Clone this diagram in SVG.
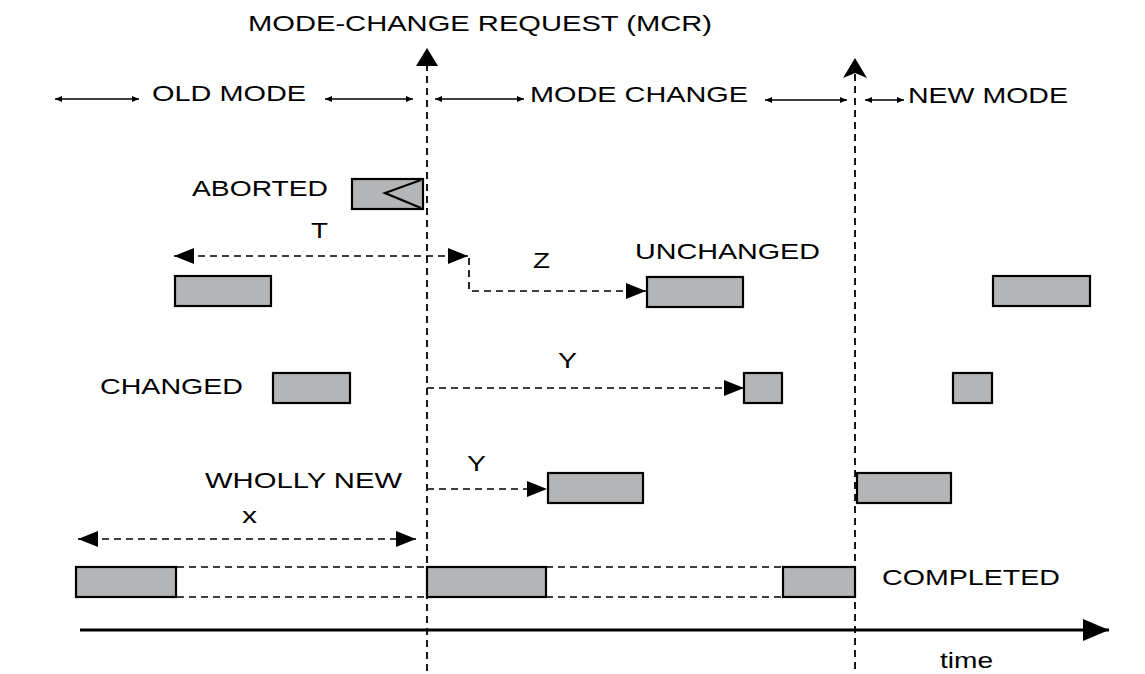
<svg xmlns="http://www.w3.org/2000/svg" width="1145" height="674" viewBox="0 0 1145 674">
<style>
  text { font-family: "Liberation Sans", Arial, sans-serif; font-size: 22px; fill: #000; }
  .box { fill: #b3b5b7; stroke: #000; stroke-width: 2.2; }
  .dash { fill: none; stroke: #000; stroke-width: 1.7; stroke-dasharray: 7 5; }
  .vdash { fill: none; stroke: #000; stroke-width: 1.8; stroke-dasharray: 7 5; }
  .thin { fill: none; stroke: #000; stroke-width: 1.3; }
  .axis { fill: none; stroke: #000; stroke-width: 3; }
</style>
<defs>
  <marker id="big" viewBox="0 0 20 16" refX="20" refY="8" markerWidth="20" markerHeight="16" markerUnits="userSpaceOnUse" orient="auto-start-reverse">
    <path d="M0,0 L20,8 L0,16 z" fill="#000"/>
  </marker>
  <marker id="small" viewBox="0 0 7 6" refX="7" refY="3" markerWidth="7" markerHeight="6" markerUnits="userSpaceOnUse" orient="auto-start-reverse">
    <path d="M0,0 L7,3 L0,6 z" fill="#000"/>
  </marker>
  <marker id="axisHead" viewBox="0 0 26 22" refX="26" refY="11" markerWidth="26" markerHeight="22" markerUnits="userSpaceOnUse" orient="auto">
    <path d="M0,0 L26,11 L0,22 z" fill="#000"/>
  </marker>
</defs>

<g id="labels">
  <text x="248" y="31" textLength="464" lengthAdjust="spacingAndGlyphs">MODE-CHANGE REQUEST (MCR)</text>
  <text x="152" y="101" textLength="154" lengthAdjust="spacingAndGlyphs">OLD MODE</text>
  <text x="530" y="102" textLength="218" lengthAdjust="spacingAndGlyphs">MODE CHANGE</text>
  <text x="908" y="103" textLength="160" lengthAdjust="spacingAndGlyphs">NEW MODE</text>
  <text x="311" y="238" textLength="17" lengthAdjust="spacingAndGlyphs">T</text>
  <text x="533" y="268" textLength="17" lengthAdjust="spacingAndGlyphs">Z</text>
  <text x="558" y="368" textLength="19" lengthAdjust="spacingAndGlyphs">Y</text>
  <text x="467" y="471" textLength="19" lengthAdjust="spacingAndGlyphs">Y</text>
  <text x="242" y="523" textLength="15" lengthAdjust="spacingAndGlyphs">x</text>
  <text x="940" y="668" textLength="53" lengthAdjust="spacingAndGlyphs">time</text>
</g>

<g id="connectors">
  <!-- mode span arrows -->
  <line class="thin" x1="55" y1="99" x2="139" y2="99" marker-start="url(#small)" marker-end="url(#small)"/>
  <line class="thin" x1="325" y1="99" x2="413" y2="99" marker-start="url(#small)" marker-end="url(#small)"/>
  <line class="thin" x1="435" y1="99" x2="524" y2="99" marker-start="url(#small)" marker-end="url(#small)"/>
  <line class="thin" x1="765" y1="100" x2="847" y2="100" marker-start="url(#small)" marker-end="url(#small)"/>
  <line class="thin" x1="865" y1="100" x2="904" y2="100" marker-start="url(#small)" marker-end="url(#small)"/>
  <!-- MCR line -->
  <line class="vdash" x1="427" y1="64" x2="427" y2="674"/>
  <path d="M427,48 L438,66 L416,66 z" fill="#000"/>
  <!-- end of mode change line -->
  <line class="vdash" x1="855" y1="74" x2="855" y2="674"/>
  <path d="M855,58 L867,78 L855,73 L843,78 z" fill="#000"/>
  <!-- T -->
  <line class="dash" x1="174" y1="256" x2="468" y2="256" marker-start="url(#big)" marker-end="url(#big)"/>
  <!-- Z -->
  <polyline class="dash" points="469,258 469,291 646,291" marker-end="url(#big)"/>
  <!-- Y changed -->
  <line class="dash" x1="427" y1="388" x2="744" y2="388" marker-end="url(#big)"/>
  <!-- Y wholly new -->
  <line class="dash" x1="427" y1="489" x2="547" y2="489" marker-end="url(#big)"/>
  <!-- x -->
  <line class="dash" x1="78" y1="539" x2="416" y2="539" marker-start="url(#big)" marker-end="url(#big)"/>
  <!-- completed row dashed links -->
  <line class="dash" x1="177" y1="567" x2="427" y2="567"/>
  <line class="dash" x1="177" y1="597" x2="427" y2="597"/>
  <line class="dash" x1="546" y1="567" x2="783" y2="567"/>
  <line class="dash" x1="546" y1="597" x2="783" y2="597"/>
  <!-- time axis -->
  <line class="axis" x1="80" y1="630" x2="1109" y2="630" marker-end="url(#axisHead)"/>
</g>

<g id="aborted">
  <text x="192" y="196" textLength="136" lengthAdjust="spacingAndGlyphs">ABORTED</text>
  <rect class="box" x="352" y="179" width="71" height="30"/>
  <polyline points="421,180 385,193 421,208" fill="none" stroke="#000" stroke-width="2.2"/>
</g>
<g id="unchanged">
  <text x="635" y="259" textLength="185" lengthAdjust="spacingAndGlyphs">UNCHANGED</text>
  <rect class="box" x="175" y="276" width="96" height="30"/>
  <rect class="box" x="647" y="277" width="96" height="30"/>
  <rect class="box" x="993" y="276" width="97" height="30"/>
</g>
<g id="changed">
  <text x="100" y="394" textLength="143" lengthAdjust="spacingAndGlyphs">CHANGED</text>
  <rect class="box" x="273" y="373" width="77" height="30"/>
  <rect class="box" x="744" y="373" width="38" height="30"/>
  <rect class="box" x="953" y="373" width="39" height="30"/>
</g>
<g id="wholly-new">
  <text x="205" y="488" textLength="197" lengthAdjust="spacingAndGlyphs">WHOLLY NEW</text>
  <rect class="box" x="548" y="473" width="95" height="30"/>
  <rect class="box" x="857" y="473" width="94" height="30"/>
</g>
<g id="completed">
  <text x="882" y="585" textLength="178" lengthAdjust="spacingAndGlyphs">COMPLETED</text>
  <rect class="box" x="76" y="567" width="100" height="30"/>
  <rect class="box" x="427" y="567" width="119" height="30"/>
  <rect class="box" x="783" y="567" width="72" height="30"/>
</g>
</svg>
